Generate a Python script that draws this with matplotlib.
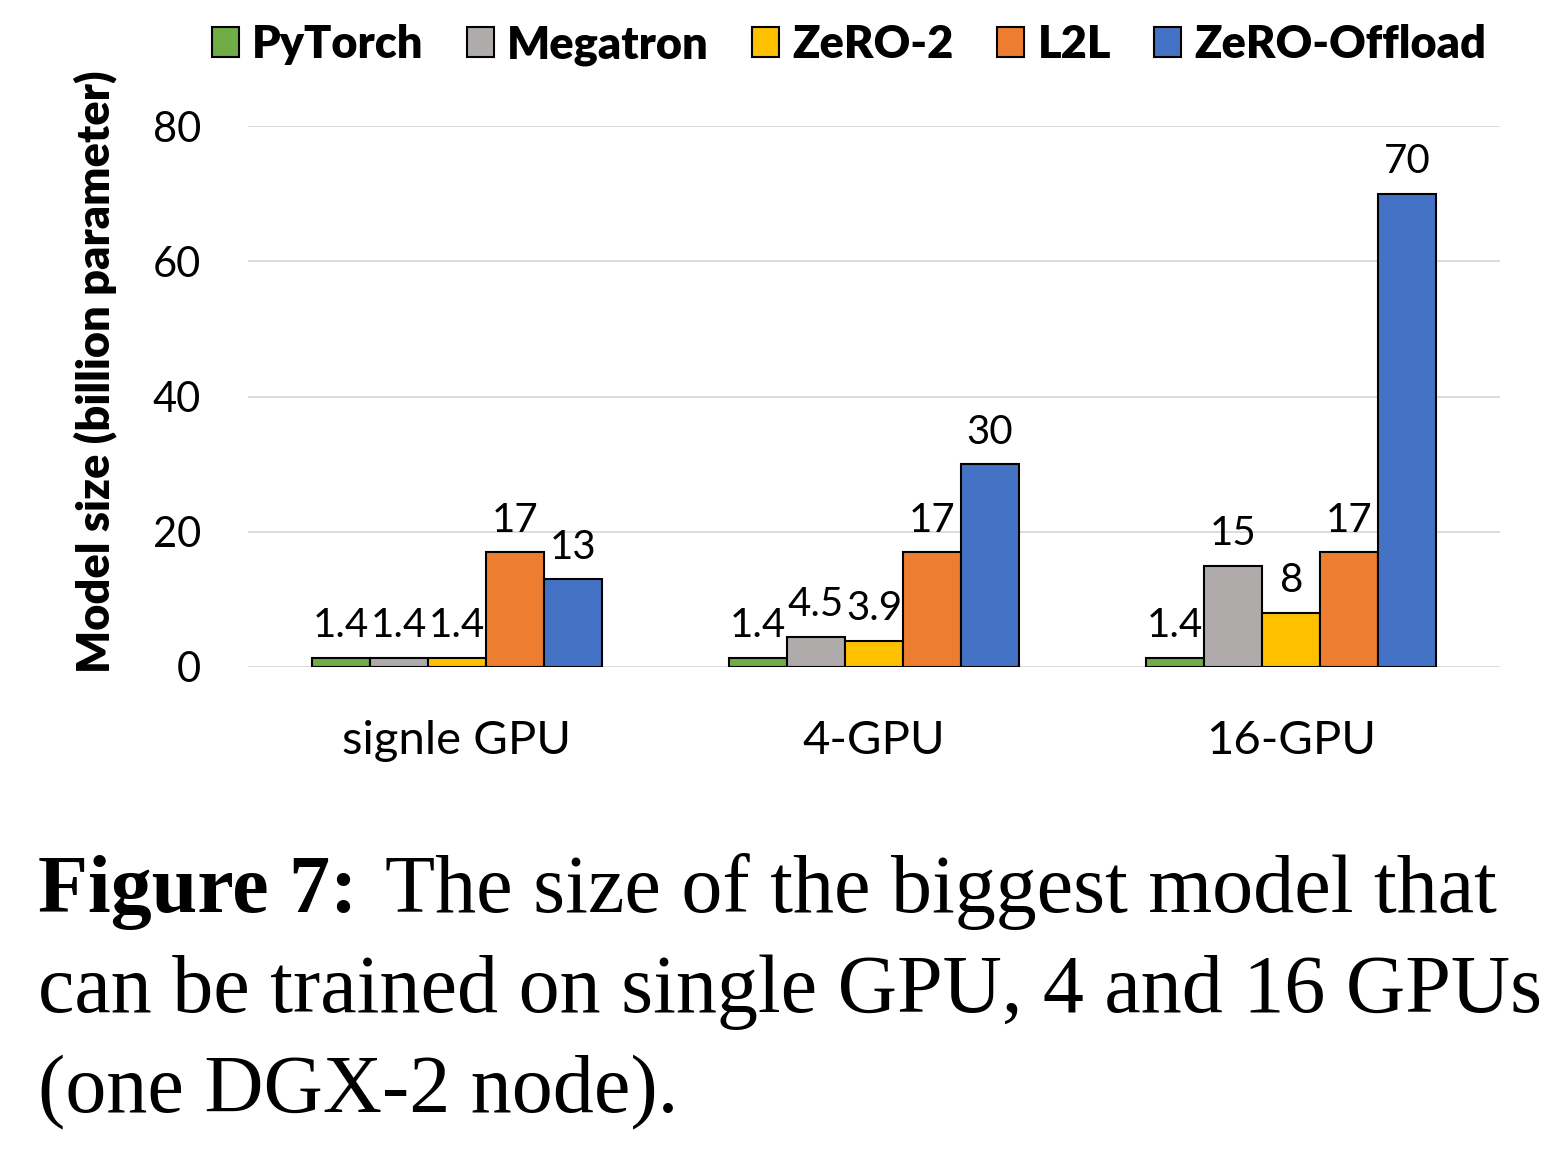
import matplotlib
matplotlib.use("Agg")
import matplotlib.pyplot as plt
import numpy as np

categories = ["signle GPU", "4-GPU", "16-GPU"]
series_names = ["PyTorch", "Megatron", "ZeRO-2", "L2L", "ZeRO-Offload"]
pytorch = [1.4, 1.4, 1.4]
megatron = [1.4, 4.5, 15]
zero2 = [1.4, 3.9, 8]
l2l = [17, 17, 17]
zero_offload = [13, 30, 70]
yticks = [0, 20, 40, 60, 80]

colors = ["#70AD47", "#AFABAB", "#FFC000", "#ED7D31", "#4472C4"]
series = [pytorch, megatron, zero2, l2l, zero_offload]

plt.rcParams['font.family'] = ['Lato', 'DejaVu Sans']

fig = plt.figure(figsize=(15.6, 11.52), dpi=100)
ax = fig.add_axes([248/1560, 1-667/1152, (1500-248)/1560, (667-126)/1152])

x = np.arange(len(categories))
w = 0.139
handles = []
for i, (name, vals, c) in enumerate(zip(series_names, series, colors)):
    pos = x + (i - 2) * w
    b = ax.bar(pos, vals, w, color=c, edgecolor="black", linewidth=1.5, label=name, zorder=3)
    handles.append(b)
    for p, v in zip(pos, vals):
        ax.text(p, v + 2.0, f"{v:g}", ha="center", va="bottom", fontsize=29, color="black", zorder=4)

ax.set_xlim(-0.5, 2.5)
ax.set_ylim(0, 80)
ax.set_yticks(yticks)
ax.set_xticks(x)
ax.set_xticklabels(categories, fontsize=34)
ax.tick_params(axis="y", labelsize=30, length=0, pad=34)
ax.tick_params(axis="x", length=0, pad=38)
ax.grid(axis="y", color="#D9D9D9", linewidth=1.3, zorder=0)
for s in ax.spines.values():
    s.set_visible(False)
fig.text(95/1560, 1-372/1152, "Model size (billion parameter)", fontsize=32.5, fontweight="heavy",
         rotation=90, ha="center", va="center")

leg = fig.legend(handles=handles, labels=series_names, loc="center", bbox_to_anchor=(849/1560, 1-45/1152),
                 ncol=5, frameon=False, prop={"family": "Lato", "weight": "heavy", "size": 32.5},
                 handlelength=0.6, handleheight=0.65, handletextpad=0.3, columnspacing=0.95)

# caption
serif = "Liberation Serif"
fs = 59
fig.text(38/1560, 1-912/1152, "Figure 7:", fontsize=fs, fontweight="bold", family=serif, va="baseline")
fig.text(385/1560, 1-912/1152, "The size of the biggest model that", fontsize=fs, family=serif, va="baseline")
fig.text(38/1560, 1-1012/1152, "can be trained on single GPU, 4 and 16 GPUs", fontsize=fs, family=serif, va="baseline")
fig.text(38/1560, 1-1112/1152, "(one DGX-2 node).", fontsize=fs, family=serif, va="baseline")

fig.savefig("out.png", dpi=100)
